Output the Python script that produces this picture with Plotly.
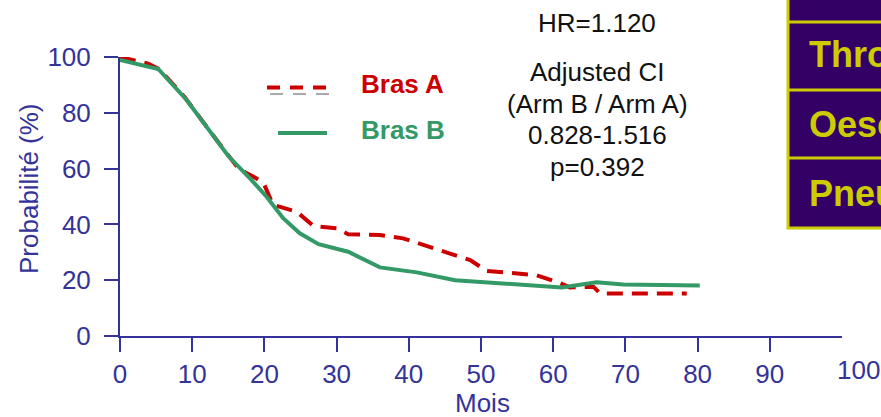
import plotly.graph_objects as go

# ---- data ----
bras_a_x = [0, 3.9, 5.5, 9, 12, 15, 16.4, 18.9, 19.9, 21.2, 24.5, 26.8, 28.6, 30.0, 31.6, 36.0,
            39.2, 42.0, 45.5, 48.5, 50.8, 53.6, 57.7, 60.9, 62.3, 65.6, 66.5, 78.5]
bras_a_y = [100, 97.6, 95.5, 85.5, 75, 65, 60, 56.5, 54.7, 47, 44.5, 39.4, 38.9, 38.6, 36.5, 36.2,
            35.0, 32.6, 29.5, 27.2, 23.3, 22.6, 21.8, 19.0, 17.4, 17.6, 15.2, 15.2]
bras_b_x = [0, 5.3, 9.2, 11.8, 15, 18, 20.3, 22.6, 24.9, 27.5, 31.6, 36.0, 41.1, 46.4, 53.6,
            61.2, 66.0, 69.7, 80.3]
bras_b_y = [98.9, 95.7, 84.7, 75.7, 64.5, 56.5, 49.9, 42.2, 36.8, 32.9, 30.2, 24.6, 22.8, 20.0,
            18.6, 17.4, 19.3, 18.5, 18.1]
x_ticks = [0, 10, 20, 30, 40, 50, 60, 70, 80, 90]
y_ticks = [0, 20, 40, 60, 80, 100]
stats_lines = ["Adjusted CI", "(Arm B / Arm A)", "0.828-1.516", "p=0.392"]
table_rows = ["Thrombopénie", "Oesophagite", "Pneumopathie"]

# ---- layout geometry ----
W, H = 881, 417
ML, MR, MT, MB = 120, 39, 57, 81
PW, PH = W - ML - MR, H - MT - MB

def px(x):
    return (x - ML) / PW

def py(y):
    return (MT + PH - y) / PH

BLUE = "#333399"
RED = "#cc0000"
GREEN = "#339966"
FONT = "Arial, Liberation Sans, sans-serif"

fig = go.Figure()
fig.add_trace(go.Scatter(x=bras_a_x, y=bras_a_y, mode="lines", name="Bras A",
                         line=dict(color=RED, width=4, dash="16px,9px")))
fig.add_trace(go.Scatter(x=bras_b_x, y=bras_b_y, mode="lines", name="Bras B",
                         line=dict(color=GREEN, width=4)))

axis_common = dict(showline=True, linecolor=BLUE, linewidth=2, ticks="outside", ticklen=14,
                   tickwidth=2, tickcolor=BLUE, showgrid=False, zeroline=False,
                   tickfont=dict(family=FONT, size=26, color=BLUE))
fig.update_xaxes(range=[0, 100], tickvals=x_ticks, **axis_common)
fig.update_yaxes(range=[0, 100], tickvals=y_ticks, ticklabelstandoff=8, **axis_common)

shapes = []
annotations = []

# table on the right
shapes.append(dict(type="rect", xref="paper", yref="paper", x0=px(788), x1=px(905),
                   y0=py(-10), y1=py(228), fillcolor="#330066",
                   line=dict(color="#cccc00", width=3), layer="below"))
for yy in [22, 90, 158]:
    shapes.append(dict(type="line", xref="paper", yref="paper", x0=px(788), x1=px(905),
                       y0=py(yy), y1=py(yy), line=dict(color="#cccc00", width=3)))
for label, yy in zip(table_rows, [55, 124, 193]):
    annotations.append(dict(text=label, xref="paper", yref="paper", x=px(807), y=py(yy),
                            xanchor="left", yanchor="middle", showarrow=False,
                            font=dict(family=FONT, size=36, color="#cccc00", weight="bold")))

# legend
shapes.append(dict(type="line", xref="paper", yref="paper", x0=px(270), x1=px(332),
                   y0=py(94), y1=py(94), line=dict(color="#aaaaaa", width=2, dash="13px,10px")))
shapes.append(dict(type="line", xref="paper", yref="paper", x0=px(267), x1=px(326),
                   y0=py(87.5), y1=py(87.5), line=dict(color=RED, width=4, dash="13px,10px")))
shapes.append(dict(type="line", xref="paper", yref="paper", x0=px(278), x1=px(327),
                   y0=py(133), y1=py(133), line=dict(color=GREEN, width=4)))
annotations.append(dict(text="Bras A", xref="paper", yref="paper", x=px(359), y=py(84),
                        xanchor="left", yanchor="middle", showarrow=False,
                        font=dict(family=FONT, size=26, color=RED, weight="bold")))
annotations.append(dict(text="Bras B", xref="paper", yref="paper", x=px(359), y=py(130),
                        xanchor="left", yanchor="middle", showarrow=False,
                        font=dict(family=FONT, size=26, color=GREEN, weight="bold")))

# stats text
annotations.append(dict(text="HR=1.120", xref="paper", yref="paper", x=px(597), y=py(23),
                        xanchor="center", yanchor="middle", showarrow=False,
                        font=dict(family=FONT, size=26, color="#111111")))
for line, yy in zip(stats_lines, [72, 103.5, 135, 166.5]):
    annotations.append(dict(text=line, xref="paper", yref="paper", x=px(597), y=py(yy),
                            xanchor="center", yanchor="middle", showarrow=False,
                            font=dict(family=FONT, size=26, color="#111111")))

# axis titles and the offset "100" label
annotations.append(dict(text="Mois", xref="paper", yref="paper", x=px(482), y=py(403),
                        xanchor="center", yanchor="middle", showarrow=False,
                        font=dict(family=FONT, size=26, color=BLUE)))
annotations.append(dict(text="Probabilité (%)", xref="paper", yref="paper", x=px(29), y=py(189),
                        xanchor="center", yanchor="middle", showarrow=False, textangle=-90,
                        font=dict(family=FONT, size=26, color=BLUE)))
annotations.append(dict(text="100", xref="paper", yref="paper", x=px(858), y=py(370),
                        xanchor="center", yanchor="middle", showarrow=False,
                        font=dict(family=FONT, size=26, color=BLUE)))

fig.update_layout(width=W, height=H, margin=dict(l=ML, r=MR, t=MT, b=MB),
                  paper_bgcolor="white", plot_bgcolor="white", showlegend=False,
                  shapes=shapes, annotations=annotations)

fig.write_html("out.html")
